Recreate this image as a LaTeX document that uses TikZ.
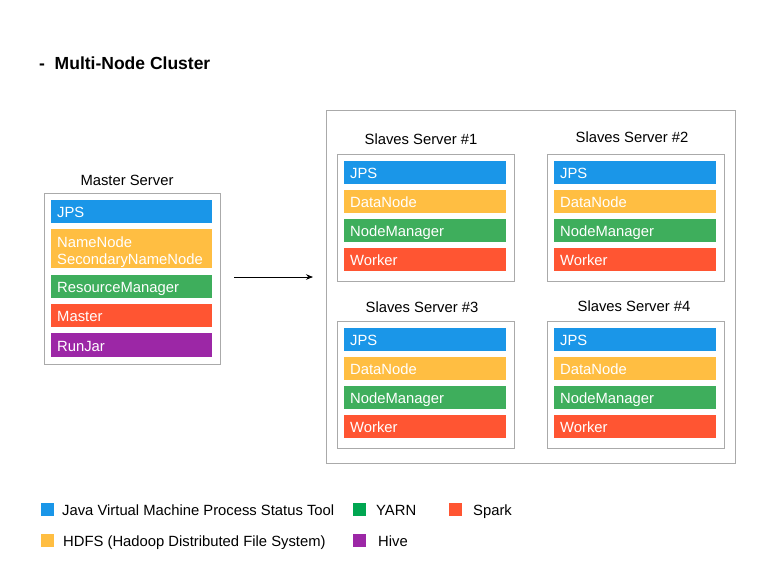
\documentclass[tikz,border=0pt]{standalone}
\usepackage{fontspec}
\setmainfont{Liberation Sans}
\usetikzlibrary{arrows.meta}
\definecolor{cblue}{RGB}{26,150,232}
\definecolor{cyellow}{RGB}{255,190,66}
\definecolor{cgreen}{RGB}{62,174,92}
\definecolor{lgreen}{RGB}{0,166,81}
\definecolor{cred}{RGB}{255,85,50}
\definecolor{cpurple}{RGB}{156,39,166}
\definecolor{boxgray}{RGB}{170,170,170}
\tikzset{
  box/.style={draw=boxgray, line width=1pt, fill=white, anchor=north west, inner sep=0pt},
  bar/.style={anchor=north west, inner xsep=6pt, inner ysep=0pt, text=white, align=left,
    font=\fontsize{14.8}{17.5}\selectfont, minimum height=23pt},
  mbar/.style={bar, text width=149pt, text height=12.5pt, text depth=0.5pt},
  sbar/.style={bar, text width=150pt, text height=12.5pt, text depth=0.5pt},
  lbl/.style={font=\fontsize{14.8}{17}\selectfont, text=black, inner sep=0pt},
  legsq/.style={minimum size=13pt, inner sep=0pt, anchor=north west},
  legtxt/.style={anchor=base west, font=\fontsize{14.8}{17}\selectfont, inner sep=0pt},
}
\newcommand\slavebox[3]{%
  \node[box, minimum width=177pt, minimum height=127pt] (#1) at (#2,#3) {};
  \node[sbar, fill=cblue] (#1jps) at ([xshift=7pt,yshift=-7pt]#1.north west) {JPS};
  \node[sbar, fill=cyellow] (#1dn) at ([xshift=7pt,yshift=-36pt]#1.north west) {DataNode};
  \node[sbar, fill=cgreen] (#1nm) at ([xshift=7pt,yshift=-65pt]#1.north west) {NodeManager};
  \node[sbar, fill=cred] (#1wk) at ([xshift=7pt,yshift=-94pt]#1.north west) {Worker};
}
\begin{document}
\begin{tikzpicture}[x=1pt,y=-1pt]
\useasboundingbox[fill=white] (0,0) rectangle (775,581);
% title
\node[anchor=west, inner sep=0pt, font=\bfseries\fontsize{17.5}{20}\selectfont] (title) at (39,63) {-\ \ Multi-Node Cluster};
% master
\node[lbl] (mlabel) at (127,180) {Master Server};
\node[box, minimum width=176pt, minimum height=171pt] (master) at (44,193) {};
\node[mbar, fill=cblue] (mjps) at (51,200) {JPS};
\node[bar, text width=149pt, fill=cyellow, minimum height=39pt, text height=12pt, text depth=15pt] (mnn) at (51,229) {NameNode\\SecondaryNameNode};
\node[mbar, fill=cgreen] (mrm) at (51,275) {ResourceManager};
\node[mbar, fill=cred] (mmaster) at (51,304) {Master};
\node[mbar, fill=cpurple, minimum height=24pt] (mrj) at (51,333) {RunJar};
% cluster
\node[box, minimum width=409pt, minimum height=353pt] (cluster) at (326,110) {};
\node[lbl] (s1label) at (421,139) {Slaves Server \#1};
\node[lbl] (s2label) at (632,137) {Slaves Server \#2};
\node[lbl] (s3label) at (422,307) {Slaves Server \#3};
\node[lbl] (s4label) at (634,306) {Slaves Server \#4};
\slavebox{sa}{337}{154}
\slavebox{sb}{547}{154}
\slavebox{sc}{337}{321}
\slavebox{sd}{547}{321}
% arrow
\coordinate (arrowy) at (0,277);
\draw[line width=0.8pt, -{Stealth[length=7pt,width=5.5pt]}, shorten <=13pt, shorten >=13pt]
  (master.east |- arrowy) -- (cluster.west |- arrowy);
% legend
\node[legsq, fill=cblue] (lg1) at (41,503) {};
\node[legtxt] (lt1) at (62,515) {Java Virtual Machine Process Status Tool};
\node[legsq, fill=lgreen] (lg2) at (353,503) {};
\node[legtxt] (lt2) at (376,515) {YARN};
\node[legsq, fill=cred] (lg3) at (449,503) {};
\node[legtxt] (lt3) at (473,515) {Spark};
\node[legsq, fill=cyellow] (lg4) at (41,534) {};
\node[legtxt] (lt4) at (63,546) {HDFS (Hadoop Distributed File System)};
\node[legsq, fill=cpurple] (lg5) at (353,534) {};
\node[legtxt] (lt5) at (378,546) {Hive};
\end{tikzpicture}
\end{document}
